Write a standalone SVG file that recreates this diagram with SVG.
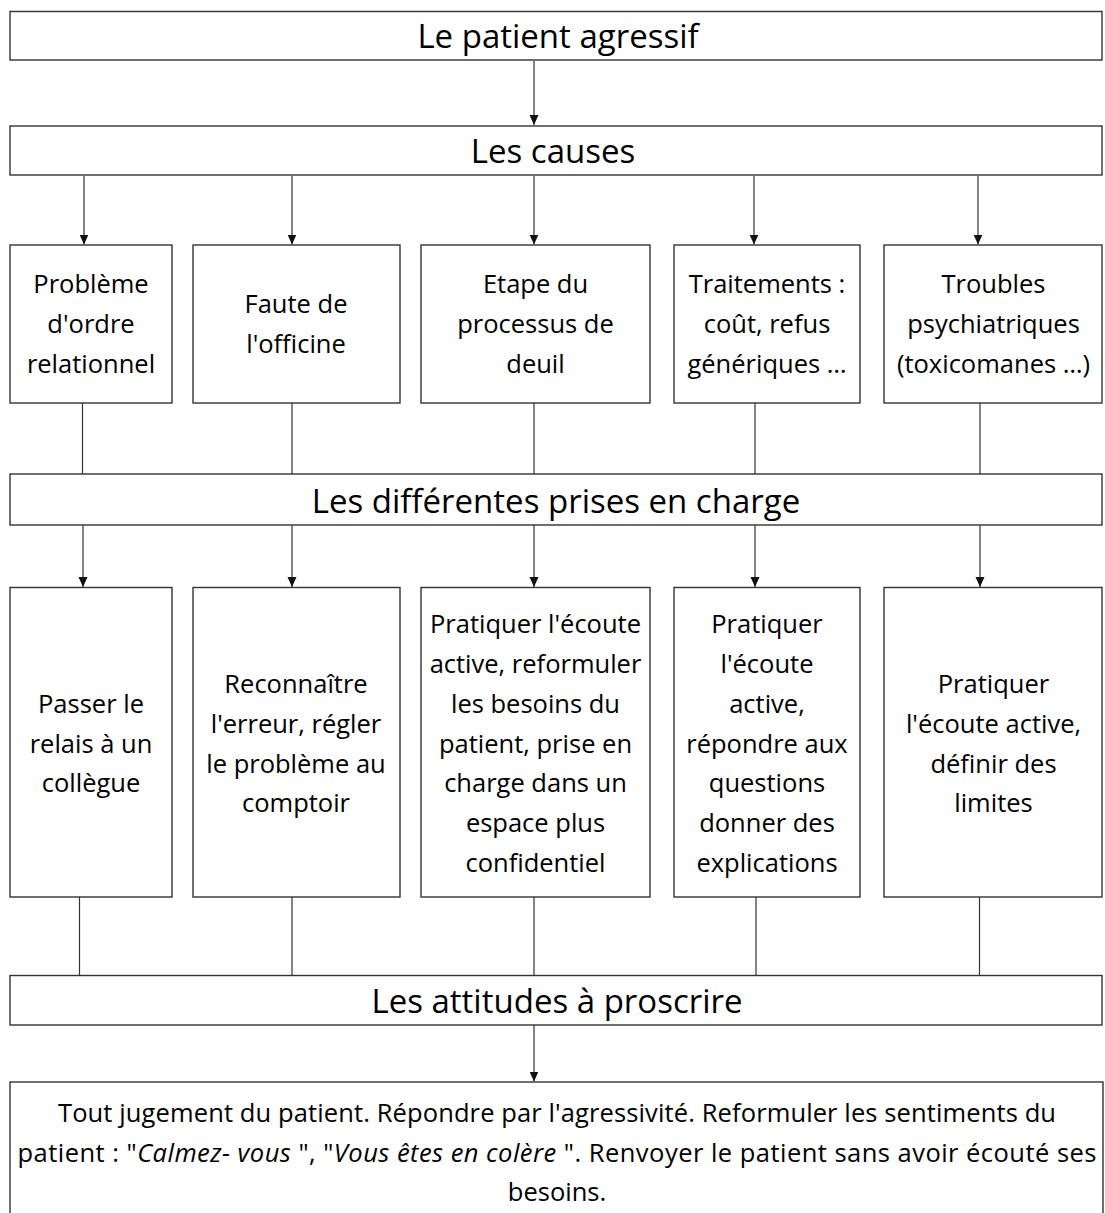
<svg xmlns="http://www.w3.org/2000/svg" width="1105" height="1213" viewBox="0 0 1105 1213">
<style>
text{font-family:"Open Sans","Liberation Sans",sans-serif;fill:#000;text-anchor:middle}
.t{font-size:33px}
.b{font-size:25.5px}
.it{font-style:italic}
rect{fill:#fff;stroke:#333;stroke-width:1.4}
.c line{stroke:#333;stroke-width:1.2}
.c .a{marker-end:url(#ah)}
</style>
<defs>
<marker id="ah" markerUnits="userSpaceOnUse" markerWidth="10" markerHeight="10" viewBox="0 0 10 10" refX="10" refY="5" orient="auto">
<path d="M0,0.5 L10,5 L0,9.5 Z" fill="#111"/>
</marker>
</defs>
<rect width="1105" height="1213" style="fill:#fff;stroke:none"/>
<g class="c" id="connectors">
<line class="a" x1="534" y1="61" x2="534" y2="125"/>
<line class="a" x1="84" y1="176" x2="84" y2="244.5"/>
<line class="a" x1="292" y1="176" x2="292" y2="244.5"/>
<line class="a" x1="534" y1="176" x2="534" y2="244.5"/>
<line class="a" x1="754" y1="176" x2="754" y2="244.5"/>
<line class="a" x1="978" y1="176" x2="978" y2="244.5"/>
<line x1="82.5" y1="403" x2="82.5" y2="474"/>
<line x1="292" y1="403" x2="292" y2="474"/>
<line x1="534" y1="403" x2="534" y2="474"/>
<line x1="755" y1="403" x2="755" y2="474"/>
<line x1="980" y1="403" x2="980" y2="474"/>
<line class="a" x1="83" y1="525" x2="83" y2="587"/>
<line class="a" x1="292" y1="525" x2="292" y2="587"/>
<line class="a" x1="534" y1="525" x2="534" y2="587"/>
<line class="a" x1="755" y1="525" x2="755" y2="587"/>
<line class="a" x1="980" y1="525" x2="980" y2="587"/>
<line x1="79.5" y1="897" x2="79.5" y2="975.5"/>
<line x1="292" y1="897" x2="292" y2="975.5"/>
<line x1="534" y1="897" x2="534" y2="975.5"/>
<line x1="756" y1="897" x2="756" y2="975.5"/>
<line x1="979.5" y1="897" x2="979.5" y2="975.5"/>
<line class="a" x1="534" y1="1025" x2="534" y2="1081.5"/>
</g>
<g id="n-patient"><rect x="10" y="11.5" width="1092" height="48.5"/><text class="t" x="558" y="47.7">Le patient agressif</text></g>
<g id="n-causes"><rect x="10" y="126" width="1092" height="49"/><text class="t" x="553" y="162.7">Les causes</text></g>
<g id="n-c1"><rect x="10" y="245" width="162" height="158"/><text class="b"><tspan x="91" y="293">Problème</tspan><tspan x="91" y="333">d'ordre</tspan><tspan x="91" y="373">relationnel</tspan></text></g>
<g id="n-c2"><rect x="193" y="245" width="207" height="158"/><text class="b"><tspan x="296" y="313">Faute de</tspan><tspan x="296" y="353">l'officine</tspan></text></g>
<g id="n-c3"><rect x="421" y="245" width="229" height="158"/><text class="b"><tspan x="535.5" y="293">Etape du</tspan><tspan x="535.5" y="333">processus de</tspan><tspan x="535.5" y="373">deuil</tspan></text></g>
<g id="n-c4"><rect x="674" y="245" width="186" height="158"/><text class="b"><tspan x="767" y="293">Traitements :</tspan><tspan x="767" y="333">coût, refus</tspan><tspan x="767" y="373">génériques …</tspan></text></g>
<g id="n-c5"><rect x="884" y="245" width="218" height="158"/><text class="b"><tspan x="993.5" y="293">Troubles</tspan><tspan x="993.5" y="333">psychiatriques</tspan><tspan x="993.5" y="373">(toxicomanes …)</tspan></text></g>
<g id="n-prises"><rect x="10" y="474" width="1092" height="51"/><text class="t" x="556" y="512.7">Les différentes prises en charge</text></g>
<g id="n-p1"><rect x="10" y="587.5" width="162" height="309.5"/><text class="b"><tspan x="91" y="713">Passer le</tspan><tspan x="91" y="753">relais à un</tspan><tspan x="91" y="792">collègue</tspan></text></g>
<g id="n-p2"><rect x="193" y="587.5" width="207" height="309.5"/><text class="b"><tspan x="296" y="693">Reconnaître</tspan><tspan x="296" y="733">l'erreur, régler</tspan><tspan x="296" y="773">le problème au</tspan><tspan x="296" y="812">comptoir</tspan></text></g>
<g id="n-p3"><rect x="421" y="587.5" width="229" height="309.5"/><text class="b"><tspan x="535.5" y="633">Pratiquer l'écoute</tspan><tspan x="535.5" y="673">active, reformuler</tspan><tspan x="535.5" y="713">les besoins du</tspan><tspan x="535.5" y="753">patient, prise en</tspan><tspan x="535.5" y="792">charge dans un</tspan><tspan x="535.5" y="832">espace plus</tspan><tspan x="535.5" y="872">confidentiel</tspan></text></g>
<g id="n-p4"><rect x="674" y="587.5" width="186" height="309.5"/><text class="b"><tspan x="767" y="633">Pratiquer</tspan><tspan x="767" y="673">l'écoute</tspan><tspan x="767" y="713">active,</tspan><tspan x="767" y="753">répondre aux</tspan><tspan x="767" y="792">questions</tspan><tspan x="767" y="832">donner des</tspan><tspan x="767" y="872">explications</tspan></text></g>
<g id="n-p5"><rect x="884" y="587.5" width="218" height="309.5"/><text class="b"><tspan x="993.5" y="693">Pratiquer</tspan><tspan x="993.5" y="733">l'écoute active,</tspan><tspan x="993.5" y="773">définir des</tspan><tspan x="993.5" y="812">limites</tspan></text></g>
<g id="n-attitudes"><rect x="10" y="975.5" width="1092" height="49.5"/><text class="t" x="557" y="1013">Les attitudes à proscrire</text></g>
<g id="n-proscrire"><rect x="10" y="1082" width="1093" height="140"/>
<text class="b" x="557" y="1122" textLength="998">Tout jugement du patient. Répondre par l'agressivité. Reformuler les sentiments du</text>
<text class="b" x="557" y="1161.5" textLength="1079">patient : "<tspan class="it">Calmez- vous</tspan> ", "<tspan class="it">Vous êtes en colère</tspan> ". Renvoyer le patient sans avoir écouté ses</text>
<text class="b" x="557" y="1201">besoins.</text>
</g>
</svg>
